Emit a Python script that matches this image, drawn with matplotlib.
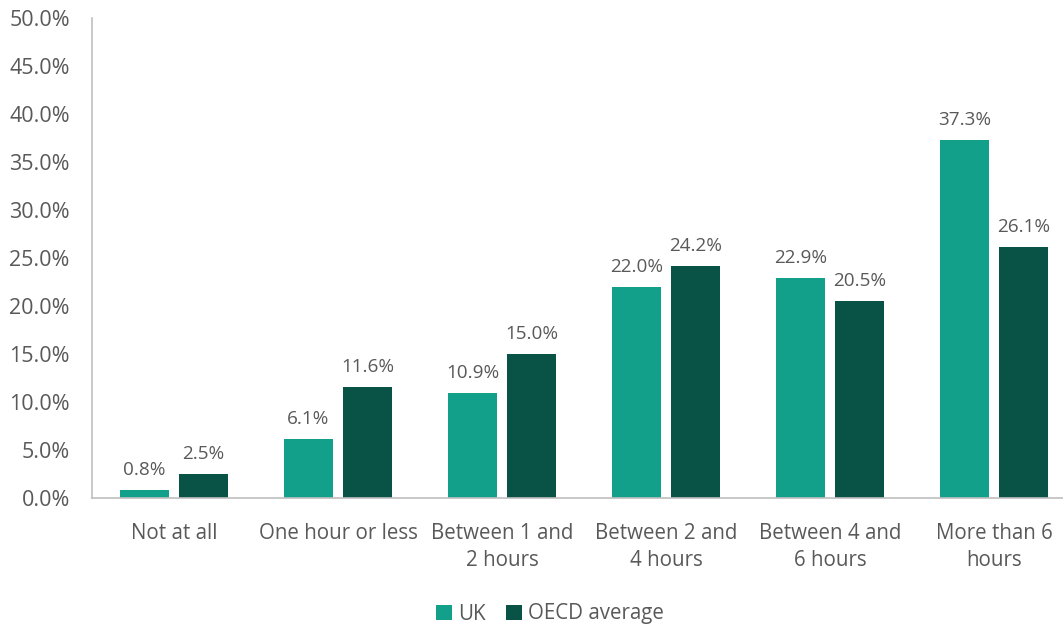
import matplotlib
matplotlib.use("Agg")
import matplotlib.pyplot as plt
import numpy as np
from matplotlib.ticker import FuncFormatter

categories = ["Not at all", "One hour or less", "Between 1 and\n2 hours",
              "Between 2 and\n4 hours", "Between 4 and\n6 hours", "More than 6\nhours"]
uk = [0.8, 6.1, 10.9, 22.0, 22.9, 37.3]
oecd = [2.5, 11.6, 15.0, 24.2, 20.5, 26.1]
series_names = ["UK", "OECD average"]
colors = ["#12A08A", "#085246"]
text_color = "#595959"

plt.rcParams['font.family'] = ['Open Sans', 'DejaVu Sans']

fig = plt.figure(figsize=(10.63, 6.27), dpi=100)
ax = fig.add_axes([92/1063, 1-498/627, 984/1063, 480/627])

x = np.arange(len(categories))
w = 0.295
off = 0.18
b1 = ax.bar(x - off, uk, w, color=colors[0], label=series_names[0])
b2 = ax.bar(x + off, oecd, w, color=colors[1], label=series_names[1])
for bars, vals in ((b1, uk), (b2, oecd)):
    for r, v in zip(bars, vals):
        ax.annotate(f"{v:.1f}%", (r.get_x() + r.get_width()/2, v),
                    xytext=(0, 8), textcoords="offset points",
                    ha="center", va="bottom", fontsize=13.6, color=text_color)

ax.set_xlim(-0.5, len(categories) - 0.5)
ax.set_ylim(0, 50)
ax.set_yticks(np.arange(0, 51, 5))
ax.yaxis.set_major_formatter(FuncFormatter(lambda v, p: f"{v:.1f}%"))
ax.set_xticks(x)
ax.set_xticklabels(categories, linespacing=1.4)
ax.tick_params(axis='both', length=0, labelcolor=text_color)
ax.tick_params(axis='x', pad=18, labelsize=14.8)
ax.tick_params(axis='y', pad=16, labelsize=15.5)
for s in ("top", "right"):
    ax.spines[s].set_visible(False)
for s in ("left", "bottom"):
    ax.spines[s].set_color("#BFBFBF")
    ax.spines[s].set_linewidth(1.2)

leg = fig.legend(loc="center", bbox_to_anchor=(550/1063, 1-614/627), ncol=2,
                 frameon=False, fontsize=14.8, handlelength=0.75, handleheight=0.75,
                 handletextpad=0.3, columnspacing=1.0, labelcolor=text_color)

fig.savefig("out.png", dpi=100)
